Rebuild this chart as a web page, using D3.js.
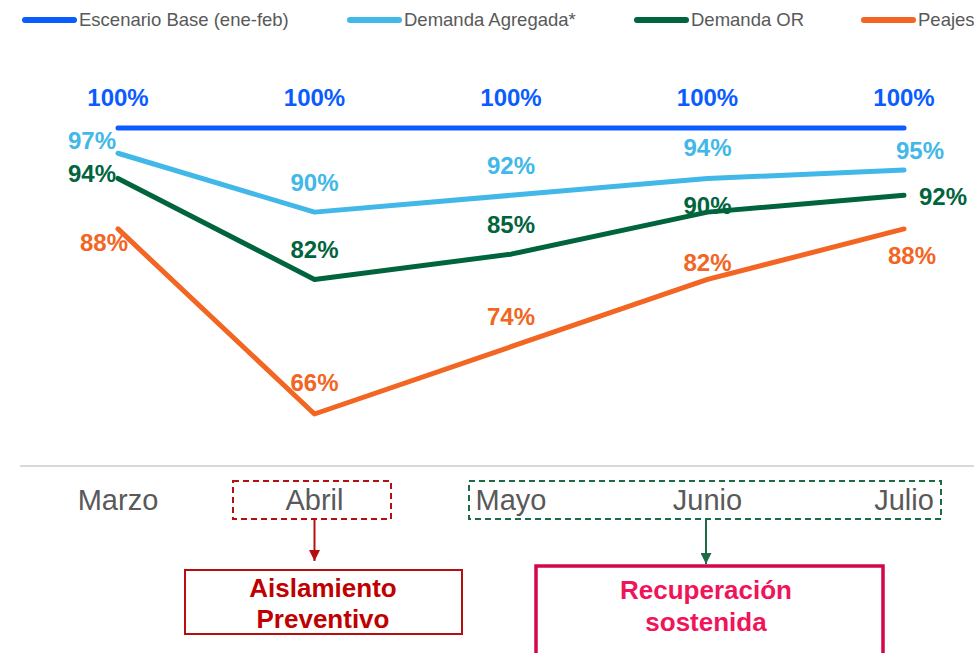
<!DOCTYPE html>
<html>
<head>
<meta charset="utf-8">
<script src="https://cdn.jsdelivr.net/npm/d3@7"></script>
<style>
  body { margin: 0; background: #fff; }
  svg { display: block; font-family: "Liberation Sans", Arial, sans-serif; }
</style>
</head>
<body>
<svg id="chart" width="974" height="653"></svg>
<script>
const months = ["Marzo", "Abril", "Mayo", "Junio", "Julio"]
const seriesNames = ["Escenario Base (ene-feb)", "Demanda Agregada*", "Demanda OR", "Peajes"]
const baseValues = [100, 100, 100, 100, 100]
const agregadaValues = [97, 90, 92, 94, 95]
const orValues = [94, 82, 85, 90, 92]
const peajesValues = [88, 66, 74, 82, 88]
const phaseLabels = [["Aislamiento", "Preventivo"], ["Recuperación", "sostenida"]]

const W = 974, H = 653
const svg = d3.select("#chart")

const x = d3.scalePoint().domain(months).range([118, 904])
const y = d3.scaleLinear().domain([66, 100]).range([414, 128])

// label placement per series, per point: [dx, dy, anchor]
const series = [
  {name: seriesNames[0], values: baseValues, color: "#0a5cff",
   lab: [[0,-30,"middle"],[0,-30,"middle"],[0,-30,"middle"],[0,-30,"middle"],[0,-30,"middle"]]},
  {name: seriesNames[1], values: agregadaValues, color: "#41b8e8",
   lab: [[-2,-13,"end"],[0,-30,"middle"],[0,-30,"middle"],[0,-31,"middle"],[16,-19,"middle"]]},
  {name: seriesNames[2], values: orValues, color: "#00643c",
   lab: [[-2,-5,"end"],[0,-30,"middle"],[0,-30,"middle"],[0,-7,"middle"],[39,1,"middle"]]},
  {name: seriesNames[3], values: peajesValues, color: "#f26522",
   lab: [[-14,14,"middle"],[0,-31,"middle"],[0,-30,"middle"],[0,-17,"middle"],[8,27,"middle"]]}
]

// ====== legend ======
const legendX = [22, 347, 634, 861]
const legend = svg.append("g")
series.forEach((s, i) => {
  legend.append("line")
    .attr("x1", legendX[i] + 3).attr("x2", legendX[i] + 52)
    .attr("y1", 20).attr("y2", 20)
    .attr("stroke", s.color).attr("stroke-width", 6).attr("stroke-linecap", "round")
  legend.append("text")
    .attr("x", legendX[i] + 57).attr("y", 20).attr("dy", "0.35em")
    .attr("font-size", 18.5).attr("fill", "#595959")
    .text(s.name)
})

// ====== lines ======
const line = d3.line().x((d, i) => x(months[i])).y(d => y(d))
series.forEach(s => {
  svg.append("path")
    .attr("d", line(s.values))
    .attr("fill", "none").attr("stroke", s.color)
    .attr("stroke-width", 5).attr("stroke-linecap", "round").attr("stroke-linejoin", "round")
})

// ====== value labels ======
series.forEach(s => {
  svg.append("g").selectAll("text").data(s.values).join("text")
    .attr("x", (d, i) => x(months[i]) + s.lab[i][0])
    .attr("y", (d, i) => y(d) + s.lab[i][1])
    .attr("dy", "0.35em")
    .attr("text-anchor", (d, i) => s.lab[i][2])
    .attr("font-size", 24).attr("font-weight", "bold")
    .attr("fill", s.color)
    .text(d => d + "%")
})

// ====== month axis ======
svg.append("line")
  .attr("x1", 20).attr("x2", W).attr("y1", 466).attr("y2", 466)
  .attr("stroke", "#d9d9d9").attr("stroke-width", 2)

svg.append("g").selectAll("text").data(months).join("text")
  .attr("x", d => x(d)).attr("y", 500).attr("dy", "0.35em")
  .attr("text-anchor", "middle").attr("font-size", 29).attr("fill", "#595959")
  .text(d => d)

const red = "#b50f0f", green = "#1b6b45", pink = "#d3064f"

// dashed boxes
svg.append("rect")
  .attr("x", 233).attr("y", 481).attr("width", 158).attr("height", 38)
  .attr("fill", "none").attr("stroke", red).attr("stroke-width", 2).attr("stroke-dasharray", "6,4")
svg.append("rect")
  .attr("x", 469).attr("y", 481).attr("width", 472).attr("height", 38)
  .attr("fill", "none").attr("stroke", green).attr("stroke-width", 2).attr("stroke-dasharray", "6,4")

// arrows
const defs = svg.append("defs")
;[["ar", red], ["ag", green]].forEach(([id, c]) => {
  defs.append("marker").attr("id", id)
    .attr("viewBox", "0 0 10 10").attr("refX", 10).attr("refY", 5)
    .attr("markerWidth", 14).attr("markerHeight", 11).attr("markerUnits", "userSpaceOnUse")
    .attr("orient", "auto")
    .append("path").attr("d", "M0,0L10,5L0,10Z").attr("fill", c)
})
svg.append("line")
  .attr("x1", x("Abril")).attr("x2", x("Abril")).attr("y1", 519).attr("y2", 561)
  .attr("stroke", red).attr("stroke-width", 2).attr("marker-end", "url(#ar)")
svg.append("line")
  .attr("x1", 706).attr("x2", 706).attr("y1", 519).attr("y2", 564)
  .attr("stroke", green).attr("stroke-width", 2).attr("marker-end", "url(#ag)")

// phase boxes
svg.append("rect")
  .attr("x", 185).attr("y", 570).attr("width", 277).attr("height", 64)
  .attr("fill", "#fff").attr("stroke", red).attr("stroke-width", 2)
svg.append("text").attr("text-anchor", "middle").attr("font-size", 26).attr("font-weight", "bold")
  .attr("fill", "#c00000")
  .selectAll("tspan").data(phaseLabels[0]).join("tspan")
  .attr("x", 323).attr("y", (d, i) => 588 + i * 31).attr("dy", "0.35em").text(d => d)

svg.append("rect")
  .attr("x", 536).attr("y", 566).attr("width", 347).attr("height", 100)
  .attr("fill", "#fff").attr("stroke", pink).attr("stroke-width", 3.5)
svg.append("text").attr("text-anchor", "middle").attr("font-size", 26).attr("font-weight", "bold")
  .attr("fill", "#f0145a")
  .selectAll("tspan").data(phaseLabels[1]).join("tspan")
  .attr("x", 706).attr("y", (d, i) => 590 + i * 32).attr("dy", "0.35em").text(d => d)
</script>
</body>
</html>
